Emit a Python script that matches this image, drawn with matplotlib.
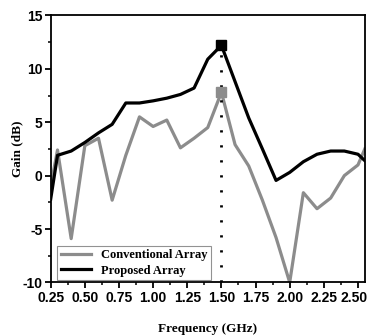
import matplotlib
matplotlib.use('Agg')
import matplotlib.pyplot as plt
import matplotlib.transforms as mtransforms
from matplotlib.ticker import MultipleLocator

# frequency samples (GHz)
freq = [0.25, 0.3, 0.4, 0.5, 0.6, 0.7, 0.8, 0.9, 1.0, 1.1, 1.2, 1.3, 1.4,
        1.5, 1.6, 1.7, 1.8, 1.9, 2.0, 2.1, 2.2, 2.3, 2.4, 2.5, 2.55]

gain_conventional = [-1.0, 2.4, -5.9, 2.8, 3.5, -2.3, 1.9, 5.5, 4.6, 5.2,
                     2.6, 3.5, 4.5, 7.8, 2.9, 0.9, -2.3, -5.8, -10.0, -1.6,
                     -3.1, -2.1, 0.0, 1.0, 2.5]

gain_proposed = [-2.2, 1.9, 2.3, 3.1, 4.0, 4.8, 6.8, 6.8, 7.0, 7.25, 7.6,
                 8.2, 10.9, 12.2, 8.8, 5.4, 2.5, -0.45, 0.3, 1.3, 2.0, 2.3,
                 2.3, 2.0, 1.4]

peak_freq = 1.5
peak_conventional = 7.8
peak_proposed = 12.2

xticks = [0.25, 0.50, 0.75, 1.00, 1.25, 1.50, 1.75, 2.00, 2.25, 2.50]
yticks = [-10, -5, 0, 5, 10, 15]

GRAY = '#8c8c8c'
tick_font = {'family': 'Liberation Sans', 'weight': 'bold', 'size': 10}
label_font = {'family': 'Liberation Serif', 'weight': 'bold', 'size': 9.5}

fig = plt.figure(figsize=(3.7, 3.35), dpi=100)
ax = fig.add_axes([0.137, 0.157, 0.849, 0.797])

ax.plot(freq, gain_conventional, color=GRAY, lw=2.3, label='Conventional Array')
ax.plot(freq, gain_proposed, color='black', lw=2.3, label='Proposed Array')
# dotted marker line at the peak frequency
ax.plot([peak_freq, peak_freq], [-10, peak_proposed], color='black', lw=2,
        linestyle=(0, (0.8, 4.6)))
ax.plot([peak_freq], [peak_conventional], 's', color=GRAY, ms=6.5)
ax.plot([peak_freq], [peak_proposed], 's', color='black', ms=6.5)

ax.set_xlim(0.25, 2.55)
ax.set_ylim(-10, 15)
ax.set_xticks(xticks)
ax.set_yticks(yticks)
ax.xaxis.set_minor_locator(MultipleLocator(0.125))
ax.yaxis.set_minor_locator(MultipleLocator(2.5))
ax.set_xticklabels([f'{t:.2f}' for t in xticks], fontdict=tick_font)
ax.set_yticklabels([str(t) for t in yticks], fontdict=tick_font)
ax.tick_params(which='major', direction='out', length=4, width=1.3, pad=2)
ax.tick_params(which='minor', direction='out', length=2.5, width=1.1)
ax.tick_params(top=False, right=False, which='both')
for s in ax.spines.values():
    s.set_linewidth(1.3)

# keep the last tick label inside the canvas
last = ax.get_xticklabels()[-1]
last.set_transform(last.get_transform() +
                   mtransforms.ScaledTranslation(-0.035, 0, fig.dpi_scale_trans))

ax.set_xlabel('Frequency (GHz)', fontdict=label_font, labelpad=13)
ax.set_ylabel('Gain (dB)', fontdict=label_font, labelpad=-1)

leg = ax.legend(loc='lower left', bbox_to_anchor=(0.02, 0.008),
                borderaxespad=0, fancybox=False, handlelength=2.4,
                prop={'family': 'Liberation Serif', 'weight': 'bold',
                      'size': 9}, borderpad=0.3, labelspacing=0.25)
leg.get_frame().set_edgecolor('#777777')
leg.get_frame().set_linewidth(0.8)

fig.savefig('out.png', dpi=100)
